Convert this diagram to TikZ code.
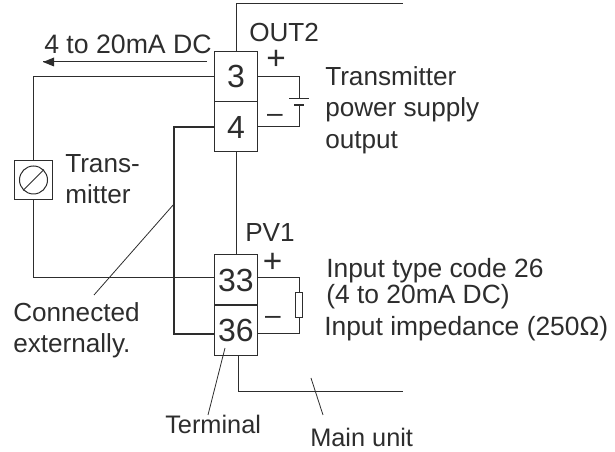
\documentclass[tikz,border=0pt]{standalone}
\usepackage{fontspec}
\setmainfont{Liberation Sans}
\definecolor{wire}{RGB}{45,45,45}
\tikzset{
	terminal/.style={draw=wire, line width=0.75pt, inner sep=0pt, minimum width=32pt, minimum height=37.5pt, text=wire, font=\fontsize{24}{26}\selectfont},
	label/.style={inner sep=0pt, text=wire, anchor=west, align=left, font=\fontsize{19.6}{23.6}\selectfont},
	polarity/.style={inner sep=0pt, text=wire, font=\fontsize{25}{27}\selectfont},
	minussign/.style={inner sep=0pt, text=wire, font=\fontsize{21}{23}\selectfont},
	edge/.style={draw=wire, line width=0.75pt},
	thickedge/.style={draw=wire, line width=2pt}
}
\begin{document}
\begin{tikzpicture}[x=0.75pt, y=-0.75pt]
	\useasboundingbox (0,0) rectangle (615,452);
	
	% terminals
	\node(t3) at (236,76.5) [terminal] {3};
	\node(t4) at (236,127) [terminal] {4};
	\node(t33) at (236,280) [terminal] {33};
	\node(t36) at (236,330.5) [terminal] {36};
	
	% transmitter
	\node(tx) at (33.5,180) [draw=wire, line width=0.75pt, minimum width=29pt, minimum height=29pt, inner sep=0pt] {};
	\node(dial) at (33.5,180) [draw=wire, circle, line width=0.75pt, minimum width=21pt, inner sep=0pt] {};
	\draw[edge] (dial.south west) -- (dial.north east);
	
	\node(lblcur) at (44,44) [label, font=\fontsize{20}{24}\selectfont] {4 to 20mA DC};
	\node(lblout) at (249,33) [label] {OUT2};
	\node(lbltx) at (65,179) [label] {Trans-\\mitter};
	\node(lblsup) at (325,110) [label] {Transmitter\\power supply\\output};
	\node(lblpv) at (245,233) [label] {PV1};
	\node(lblcode) at (326,284) [label, font=\fontsize{19.8}{19.6}\selectfont] {Input type code 26\\(4 to 20mA DC)};
	\node(lblimp) at (324,329) [label, font=\fontsize{19.8}{23.6}\selectfont] {Input impedance (250Ω)};
	\node(lblconn) at (13,330) [label] {Connected\\externally.};
	\node(lblterm) at (165,424) [label, font=\fontsize{19}{23}\selectfont] {Terminal};
	\node(lblmain) at (310,437) [label, font=\fontsize{19}{23}\selectfont] {Main unit};
	
	\node(plus1) at (276,60) [polarity] {+};
	\node(minus1) at (275,118) [minussign] {--};
	\node(plus2) at (272.5,263) [polarity] {+};
	\node(minus2) at (273,320.5) [minussign] {--};
	
	% case outline
	\coordinate(topa) at (236,4);
	\coordinate(topb) at (403,4);
	\coordinate(bota) at (238.5,392);
	\coordinate(botb) at (403,392);
	\draw[edge] (t3.north) -- (topa) -- (topb);
	\draw[edge] (t4.south) -- (t33.north);
	\draw[edge] (bota |- t36.south) -- (bota) -- (botb);
	
	% loop wiring
	\coordinate(w33) at ([yshift=1.5pt]t33.west);
	\coordinate(w36) at ([yshift=-2.6pt]t36.west);
	\coordinate(e33) at ([yshift=1.5pt]t33.east);
	\coordinate(e36) at ([yshift=-2.6pt]t36.east);
	\draw[edge] (t3.west) -| (tx.north);
	\draw[edge] (tx.south) |- (w33);
	\coordinate(jump) at (174,230);
	\draw[thickedge] (t4.west) -| (jump) |- (w36);
	
	% current arrow
	\coordinate(arra) at (207,62);
	\coordinate(arrb) at (43,62);
	\draw[edge] (arra) -- (arrb);
	\fill[wire] (arrb) -- ++(11,-4.5) -- ++(0,9) -- cycle;
	
	% battery
	\coordinate(bata) at (299,99);
	\coordinate(batb) at (299,105);
	\draw[edge] (t3.east) -| (bata);
	\draw[edge] (t4.east) -| (batb);
	\draw[edge] (289,99) -- (309,99);
	\draw[thickedge] (294,105) -- (304,105);
	
	% resistor
	\node(res) at (299,305) [draw=wire, line width=0.75pt, minimum width=5.5pt, minimum height=19pt, inner sep=0pt] {};
	\draw[edge] (e33) -| (res.north);
	\draw[edge] (e36) -| (res.south);
	
	% leaders
	\draw[edge, line width=0.6pt] (174,204) -- (94,295);
	\draw[edge, line width=0.6pt] (225,348) -- (208,415);
	\draw[edge, line width=0.6pt] (311,378) -- (323,415);
\end{tikzpicture}
\end{document}
